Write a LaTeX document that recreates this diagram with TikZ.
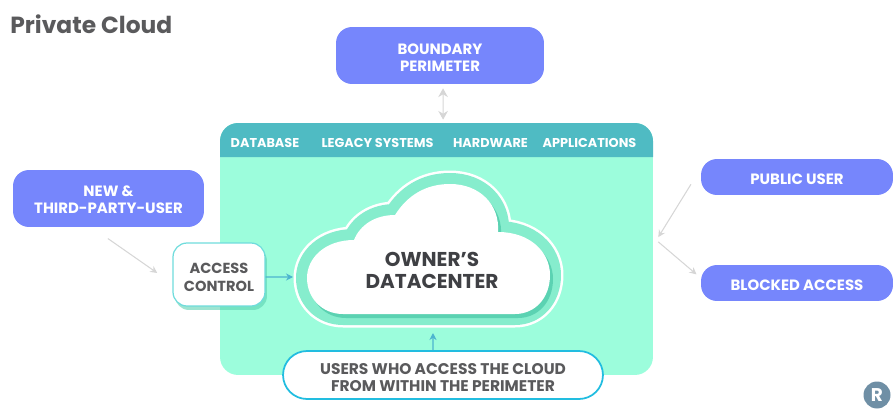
\documentclass[tikz,border=0pt]{standalone}
\usepackage{fontspec}
\setmainfont{Poppins}
\usetikzlibrary{arrows.meta,shadows}

\definecolor{bluefill}{HTML}{7686FC}
\definecolor{headfill}{HTML}{4FBBC3}
\definecolor{bodyfill}{HTML}{9CFDDC}
\definecolor{ringfill}{HTML}{86EDCD}
\definecolor{ringdark}{HTML}{5BD2B2}
\definecolor{pillline}{HTML}{22BDE0}
\definecolor{boxline}{HTML}{6FDCDC}
\definecolor{textgray}{HTML}{5A5A5C}
\definecolor{textdark}{HTML}{3F4044}
\definecolor{linkgray}{HTML}{D6D6D6}
\definecolor{linkblue}{HTML}{4DB4CF}
\definecolor{logofill}{HTML}{6F8FA5}

\tikzset{
  bluebox/.style={fill=bluefill, rounded corners=0.32cm, text=white, align=center, inner sep=0pt,
    font=\bfseries\fontsize{8.5pt}{9.8pt}\selectfont},
  headlabel/.style={text=white, font=\bfseries\fontsize{7.3pt}{9pt}\selectfont, inner sep=0pt},
  graylabel/.style={text=textgray, align=center, inner sep=0pt},
  grayarrow/.style={linkgray, line width=0.6pt, -{Stealth[length=4pt,width=4pt]}},
  bluearrow/.style={linkblue, line width=0.7pt, -{Stealth[length=4pt,width=4pt]}},
}

\newcommand{\cloudoutline}{
  (343,314) .. controls (322,314) and (307,298) .. (307,278)
  .. controls (307,258) and (325,240) .. (354,240)
  .. controls (360,225) and (375,215) .. (395,215)
  .. controls (407,196) and (425,184) .. (450,184)
  .. controls (480,184) and (500,205) .. (498,232)
  .. controls (530,232) and (550,252) .. (550,275)
  .. controls (550,298) and (535,314) .. (515,314) -- cycle
}

\begin{document}
\begin{tikzpicture}[x=0.02cm, y=-0.02cm]

  \useasboundingbox (0,0) rectangle (893,409);

  % Title
  \node[text=textgray, anchor=west, inner sep=0pt, font=\bfseries\fontsize{13.3pt}{14pt}\selectfont] (title) at (10,24) {Private Cloud};

  % Green area with its header
  \node[fill=bodyfill, rounded corners=0.36cm, minimum width=8.66cm, minimum height=5.04cm, inner sep=0pt] (datacenter) at (436.5,249) {};
  \fill[headfill] (220,157) [rounded corners=0.36cm] -- (220,123) -- (653,123) [sharp corners] -- (653,157) -- cycle;
  \node[headlabel] (database) at (265,143) {DATABASE};
  \node[headlabel] (legacy) at (377.5,143) {LEGACY SYSTEMS};
  \node[headlabel] (hardware) at (490.5,143) {HARDWARE};
  \node[headlabel] (applications) at (589.5,143) {APPLICATIONS};

  % Blue boxes
  \node[bluebox, minimum width=4.16cm, minimum height=1.14cm, text height=18pt] (boundary) at (440,55.5) {BOUNDARY\\PERIMETER};
  \node[bluebox, minimum width=3.82cm, minimum height=1.14cm, text height=17pt] (newuser) at (108.5,198.5) {NEW \&\\THIRD-PARTY-USER};
  \node[bluebox, minimum width=3.84cm, minimum height=0.72cm, text height=8.3pt] (publicuser) at (797,177) {PUBLIC USER};
  \node[bluebox, minimum width=3.84cm, minimum height=0.72cm, text height=8.3pt] (blocked) at (797,283) {BLOCKED ACCESS};

  % Draw the cloud
  \draw[white, line width=0.54cm, line join=round] \cloudoutline;
  \draw[ringfill, fill=ringfill, line width=0.44cm, line join=round] \cloudoutline;
  \fill[ringdark, shift={(3,4)}] \cloudoutline;
  \fill[white] \cloudoutline;
  \node[text=textdark, align=center, inner sep=0pt, font=\bfseries\fontsize{11.4pt}{12.5pt}\selectfont] (owner) at (432,270) {OWNER'S\\DATACENTER};

  % Access control and inside users
  \node[fill=white, draw=boxline, line width=0.7pt, rounded corners=0.28cm, minimum width=1.84cm, minimum height=1.26cm,
    drop shadow={shadow xshift=0.04cm, shadow yshift=-0.08cm, fill=ringdark, opacity=0.6},
    graylabel, font=\bfseries\fontsize{8.3pt}{9.8pt}\selectfont, text height=19pt] (access) at (219,274.5) {ACCESS\\CONTROL};
  \node[fill=white, draw=pillline, line width=1pt, rounded corners=0.48cm, minimum width=6.4cm, minimum height=0.96cm,
    graylabel, font=\bfseries\fontsize{8.8pt}{9.8pt}\selectfont, text height=19pt] (insiders) at (443,375) {USERS WHO ACCESS THE CLOUD\\FROM WITHIN THE PERIMETER};

  % Free ends on the cloud
  \coordinate (cloudleft) at (293,277);
  \coordinate (cloudfoot) at (433,333);

  % Connectors
  \draw[grayarrow, {Stealth[length=5pt,width=5.5pt]}-{Stealth[length=5pt,width=5.5pt]}, shorten <=0.08cm, shorten >=0.06cm] (boundary.276) -- (datacenter.87);
  \draw[grayarrow, shorten <=0.39cm, shorten >=0.37cm] (newuser.240) -- (access.191);
  \draw[grayarrow, shorten <=0.37cm, shorten >=0.19cm] (publicuser.175) -- (datacenter.1.6);
  \draw[grayarrow, shorten <=0.13cm, shorten >=0.11cm] (datacenter.3.3) -- (blocked.177.3);
  \draw[bluearrow] (access.-3) -- (cloudleft);
  \draw[bluearrow] (insiders.112) -- (cloudfoot);

  % Logo in the corner
  \node[circle, fill=logofill, text=white, minimum size=0.54cm, inner sep=0pt, font=\bfseries\fontsize{10.5pt}{12pt}\selectfont] (logo) at (877,395) {R};

\end{tikzpicture}
\end{document}
